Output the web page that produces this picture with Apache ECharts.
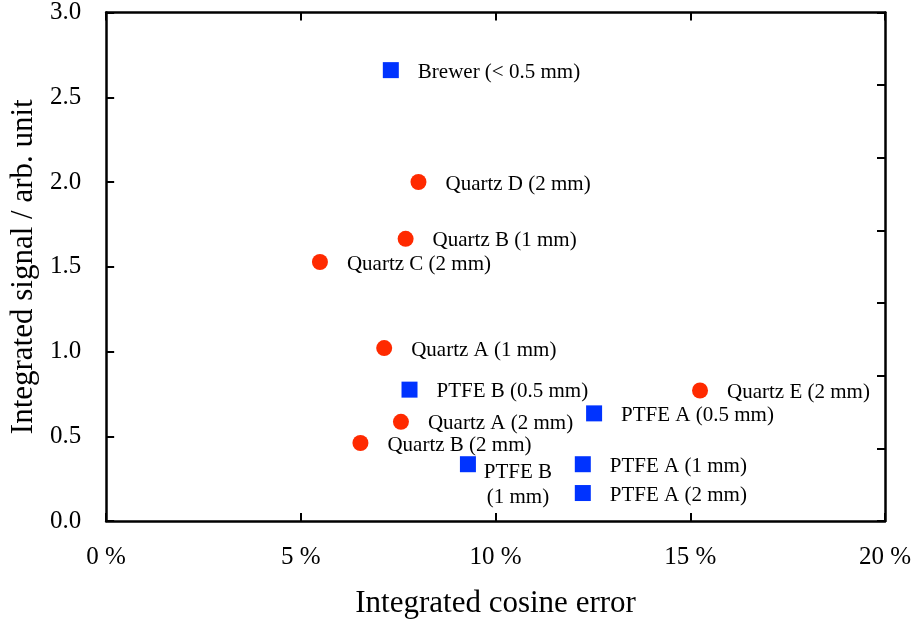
<!DOCTYPE html>
<html>
<head>
<meta charset="utf-8">
<script src="https://cdn.jsdelivr.net/npm/echarts@6/dist/echarts.min.js"></script>
<style>
html,body{margin:0;padding:0;background:#fff;}
#chart{width:917px;height:624px;}
</style>
</head>
<body>
<div id="chart"></div>
<script>
// ---- data ----
const squareNames = ['Brewer (< 0.5 mm)', 'PTFE B (0.5 mm)', 'PTFE A (0.5 mm)', 'PTFE B (1 mm)', 'PTFE A (1 mm)', 'PTFE A (2 mm)'];
const squareX = [7.31, 7.79, 12.53, 9.29, 12.24, 12.24];
const squareY = [2.66, 0.775, 0.635, 0.335, 0.335, 0.165];

const circleNames = ['Quartz D (2 mm)', 'Quartz B (1 mm)', 'Quartz C (2 mm)', 'Quartz A (1 mm)', 'Quartz E (2 mm)', 'Quartz A (2 mm)', 'Quartz B (2 mm)'];
const circleX = [8.02, 7.69, 5.49, 7.14, 15.25, 7.57, 6.53];
const circleY = [2.0, 1.665, 1.528, 1.02, 0.77, 0.585, 0.46];

const xTickValues = [0, 5, 10, 15, 20];
const yTickValues = [0.0, 0.5, 1.0, 1.5, 2.0, 2.5, 3.0];

// ---- styling ----
const FONT = "'Liberation Serif', 'Times New Roman', serif";
const labelFont = { fontFamily: FONT, fontSize: 21, color: '#000' };
// special label layout (two-line label placed below-right)
const specialLabels = {
  'PTFE B (1 mm)': { formatter: 'PTFE B\n(1 mm)', position: [58, 27], align: 'center', verticalAlign: 'middle', lineHeight: 25 }
};

function makePoints(names, xs, ys) {
  return names.map((n, i) => {
    const p = { name: n, value: [xs[i], ys[i]] };
    if (specialLabels[n]) p.label = Object.assign({}, specialLabels[n]);
    return p;
  });
}

const axisLineStyle = { color: '#000', width: 2.5 };
const tickStyle = { color: '#000', width: 2 };

const chart = echarts.init(document.getElementById('chart'), null, { renderer: 'canvas' });
chart.setOption({
  animation: false,
  backgroundColor: '#fff',
  grid: { left: 106, right: 32, top: 12, bottom: 102 },
  xAxis: [
    {
      type: 'value', min: xTickValues[0], max: xTickValues[xTickValues.length - 1], interval: 5,
      position: 'bottom',
      name: 'Integrated cosine error', nameLocation: 'middle', nameGap: 67,
      nameTextStyle: { fontFamily: FONT, fontSize: 31, color: '#000' },
      axisLine: { show: true, onZero: false, lineStyle: axisLineStyle },
      axisTick: { show: true, inside: false, length: -8, lineStyle: tickStyle },
      axisLabel: { fontFamily: FONT, fontSize: 25, color: '#000', margin: 24, formatter: v => v + ' %' },
      splitLine: { show: false }
    },
    {
      type: 'value', min: xTickValues[0], max: xTickValues[xTickValues.length - 1], interval: 5,
      position: 'top',
      axisLine: { show: true, onZero: false, lineStyle: axisLineStyle },
      axisTick: { show: true, inside: true, length: 8, lineStyle: tickStyle },
      axisLabel: { show: false },
      splitLine: { show: false }
    }
  ],
  yAxis: [
    {
      type: 'value', min: yTickValues[0], max: yTickValues[yTickValues.length - 1], interval: 0.5,
      position: 'left',
      name: 'Integrated signal / arb. unit', nameLocation: 'middle', nameGap: 67,
      nameTextStyle: { fontFamily: FONT, fontSize: 31, color: '#000' },
      axisLine: { show: true, onZero: false, lineStyle: axisLineStyle },
      axisTick: { show: true, inside: false, length: -8, lineStyle: tickStyle },
      axisLabel: { fontFamily: FONT, fontSize: 25, color: '#000', margin: 25, formatter: v => v.toFixed(1) },
      splitLine: { show: false }
    },
    {
      type: 'value', min: 0, max: 7, interval: 1,
      position: 'right',
      axisLine: { show: true, onZero: false, lineStyle: axisLineStyle },
      axisTick: { show: true, inside: true, length: 8, lineStyle: tickStyle },
      axisLabel: { show: false },
      splitLine: { show: false }
    }
  ],
  series: [
    {
      type: 'scatter', xAxisIndex: 0, yAxisIndex: 0,
      symbol: 'rect', symbolSize: 16,
      itemStyle: { color: '#0033ff', opacity: 1 },
      label: Object.assign({ show: true, position: 'right', distance: 19, offset: [0, 2], formatter: p => p.name }, labelFont),
      data: makePoints(squareNames, squareX, squareY)
    },
    {
      type: 'scatter', xAxisIndex: 0, yAxisIndex: 0,
      symbol: 'circle', symbolSize: 16,
      itemStyle: { color: '#ff2a00', opacity: 1 },
      label: Object.assign({ show: true, position: 'right', distance: 19, offset: [0, 2], formatter: p => p.name }, labelFont),
      data: makePoints(circleNames, circleX, circleY)
    }
  ]
});
</script>
</body>
</html>
